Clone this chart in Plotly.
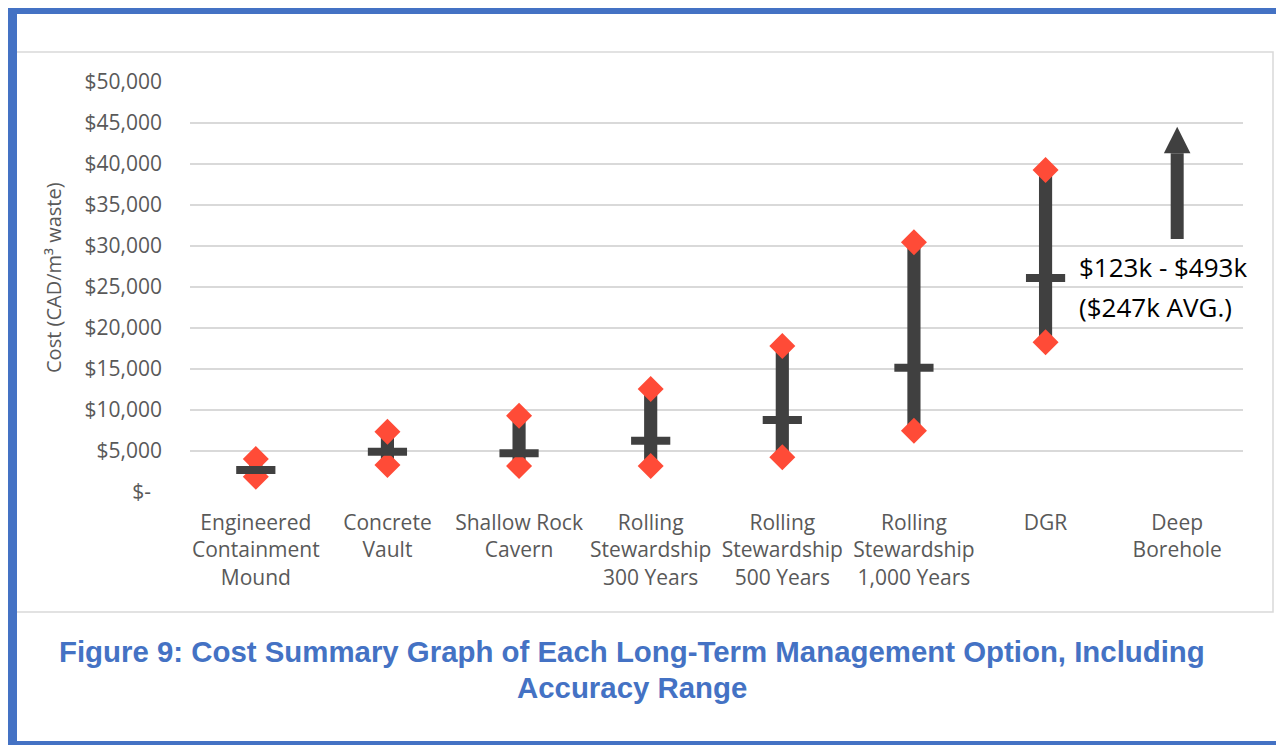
import plotly.graph_objects as go

W, H = 1284, 746
OFF = 8  # page body margin compensation

# ---------------- data ----------------
categories = [
    "Engineered<br>Containment<br>Mound",
    "Concrete<br>Vault",
    "Shallow Rock<br>Cavern",
    "Rolling<br>Stewardship<br>300 Years",
    "Rolling<br>Stewardship<br>500 Years",
    "Rolling<br>Stewardship<br>1,000 Years",
    "DGR",
    "Deep<br>Borehole",
]
# values for the first seven options (Deep Borehole is off-scale)
low_values = [1870, 3290, 3170, 3170, 4230, 7480, 18250]
high_values = [4020, 7350, 9300, 12560, 17800, 30450, 39270]
avg_values = [2680, 4920, 4720, 6260, 8780, 15160, 26100]

# off-scale arrow for Deep Borehole (values in $/m3)
arrow_category = 7
arrow_base = 30850
arrow_head_base = 41300
arrow_tip = 44550
borehole_label_1 = "$123k - $493k"
borehole_label_2 = "($247k AVG.)"

y_tick_values = [0, 5000, 10000, 15000, 20000, 25000, 30000, 35000, 40000, 45000, 50000]
y_tick_labels = ["$-\u00a0\u00a0", "$5,000", "$10,000", "$15,000", "$20,000", "$25,000",
                 "$30,000", "$35,000", "$40,000", "$45,000", "$50,000"]

y_title = "Cost (CAD/m³ waste)"
caption_1 = "Figure 9: Cost Summary Graph of Each Long-Term Management Option, Including"
caption_2 = "Accuracy Range"

# ---------------- styling helpers ----------------
def px_x(p):
    return (p - OFF) / W

def px_y(p):
    return 1 - (p - OFF) / H

DARK = "#404040"
RED = "#FF4B37"
GRID = "#D9D9D9"
BLUE = "#4472C4"
TICK_COLOR = "#595959"

n_pts = len(low_values)
xpos = list(range(n_pts))

fig = go.Figure()

# range bars (low -> high)
fig.add_trace(go.Bar(
    x=xpos,
    base=low_values,
    y=[h - l for h, l in zip(high_values, low_values)],
    width=0.1,
    marker=dict(color=DARK, line=dict(width=0)),
    hoverinfo="skip",
    showlegend=False,
))

# low / high diamonds
fig.add_trace(go.Scatter(
    x=xpos + xpos,
    y=low_values + high_values,
    mode="markers",
    marker=dict(symbol="diamond", size=20, color=RED, line=dict(width=0)),
    showlegend=False,
    cliponaxis=False,
))

# average dash
fig.add_trace(go.Scatter(
    x=xpos,
    y=avg_values,
    mode="markers",
    marker=dict(symbol="line-ew", size=28, color=DARK, line=dict(width=8, color=DARK)),
    showlegend=False,
    cliponaxis=False,
))

# Deep borehole arrow: shaft
fig.add_trace(go.Scatter(
    x=[arrow_category, arrow_category],
    y=[arrow_base, arrow_head_base],
    mode="lines",
    line=dict(color=DARK, width=13),
    showlegend=False,
    hoverinfo="skip",
    cliponaxis=False,
))
# arrow head
hw = 0.101
fig.add_trace(go.Scatter(
    x=[arrow_category - hw, arrow_category + hw, arrow_category, arrow_category - hw],
    y=[arrow_head_base, arrow_head_base, arrow_tip, arrow_head_base],
    mode="lines",
    fill="toself",
    fillcolor=DARK,
    line=dict(color=DARK, width=0),
    showlegend=False,
    hoverinfo="skip",
    cliponaxis=False,
))

shapes = []
# chart box (light grey)
shapes.append(dict(type="rect", xref="paper", yref="paper",
                   x0=px_x(12), x1=px_x(1273), y0=px_y(612), y1=px_y(52),
                   line=dict(color=GRID, width=1.5), fillcolor="rgba(0,0,0,0)", layer="below"))
# blue frame
for (x0, x1, y0, y1) in [(5, 17, 3, 745), (5, 1284, 3, 14), (1276, 1284, 3, 745), (5, 1284, 741, 745)]:
    shapes.append(dict(type="rect", xref="paper", yref="paper",
                       x0=px_x(x0), x1=px_x(x1), y0=px_y(y1), y1=px_y(y0),
                       line=dict(width=0), fillcolor=BLUE, layer="above"))

annotations = [
    dict(text=y_title, xref="paper", yref="paper", x=px_x(53), y=px_y(277),
         textangle=-90, showarrow=False, xanchor="center", yanchor="middle",
         font=dict(family="Open Sans", size=20, color=TICK_COLOR)),
    dict(text=borehole_label_1, xref="paper", yref="paper", x=px_x(1077), y=px_y(267),
         showarrow=False, xanchor="left", yanchor="middle",
         font=dict(family="Open Sans", size=26, color="#000000")),
    dict(text=borehole_label_2, xref="paper", yref="paper", x=px_x(1077), y=px_y(307),
         showarrow=False, xanchor="left", yanchor="middle",
         font=dict(family="Open Sans", size=26, color="#000000")),
    dict(text="<b>" + caption_1 + "</b>", xref="paper", yref="paper", x=px_x(632), y=px_y(651),
         showarrow=False, xanchor="center", yanchor="middle",
         font=dict(family="Liberation Sans, Arial", size=29.4, color=BLUE)),
    dict(text="<b>" + caption_2 + "</b>", xref="paper", yref="paper", x=px_x(632), y=px_y(687),
         showarrow=False, xanchor="center", yanchor="middle",
         font=dict(family="Liberation Sans, Arial", size=29.4, color=BLUE)),
]

fig.update_layout(
    width=W, height=H,
    margin=dict(l=0, r=0, t=0, b=0, autoexpand=False),
    paper_bgcolor="white",
    plot_bgcolor="white",
    showlegend=False,
    shapes=shapes,
    annotations=annotations,
    font=dict(family="Open Sans", size=21, color=TICK_COLOR),
    xaxis=dict(
        domain=[px_x(190), px_x(1243)],
        range=[-0.5, 7.5],
        tickmode="array",
        tickvals=list(range(len(categories))),
        ticktext=categories,
        showgrid=False, zeroline=False, showline=False,
        ticks="", ticklabelstandoff=16,
        tickfont=dict(family="Open Sans", size=21, color=TICK_COLOR),
        automargin=False,
        fixedrange=True,
    ),
    yaxis=dict(
        domain=[px_y(492), px_y(82)],
        range=[0, 50000],
        tickmode="array",
        tickvals=y_tick_values,
        ticktext=y_tick_labels,
        showgrid=True, gridcolor=GRID, gridwidth=1.5,
        zeroline=False, showline=False,
        ticks="", ticklabelstandoff=27,
        tickfont=dict(family="Open Sans", size=21, color=TICK_COLOR),
        automargin=False,
        fixedrange=True,
    ),
)

fig.write_html("out.html")
